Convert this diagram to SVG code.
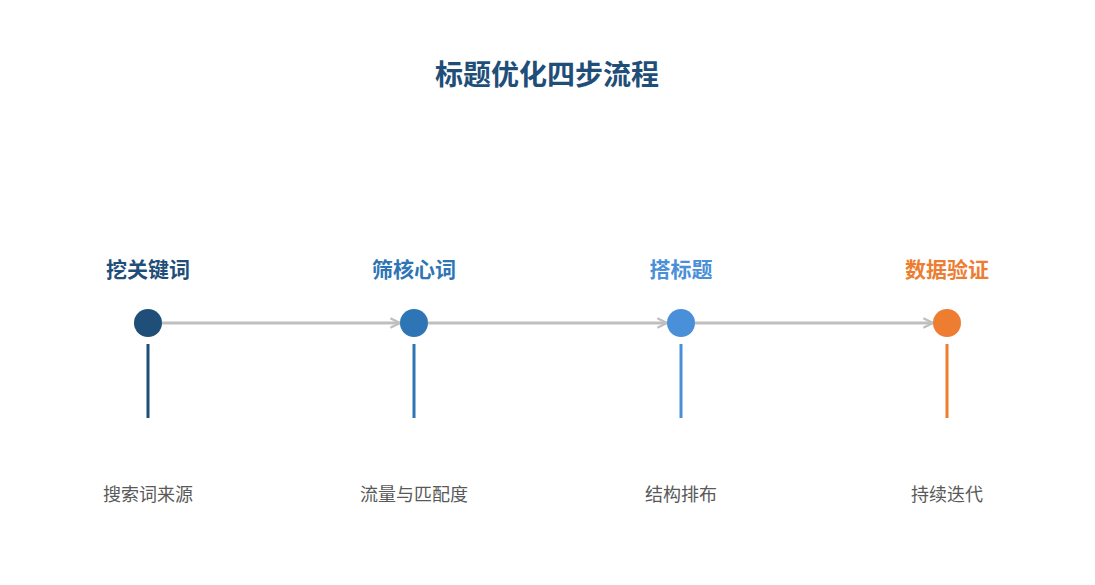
<svg xmlns="http://www.w3.org/2000/svg" width="1095" height="585" viewBox="0 0 1095 585">
<style>
text{font-family:"Noto Sans CJK SC","Liberation Sans",sans-serif;text-anchor:middle}
.t{font-size:21px;font-weight:bold}
.s{font-size:18px;fill:#595959}
.c{fill:none;stroke:#bfbfbf;stroke-width:3}
</style>
<defs><marker id="a" viewBox="0 0 10 10" refX="9" refY="5" markerWidth="4" markerHeight="4" orient="auto"><path d="M1 1L9 5L1 9" fill="none" stroke="#bfbfbf" stroke-width="2"/></marker></defs>
<rect width="1095" height="585" fill="#fff"/>
<text x="547" y="85" font-size="28" font-weight="bold" fill="#1f4e79">标题优化四步流程</text>
<g id="connectors">
<line class="c" x1="162" y1="323" x2="400" y2="323" marker-end="url(#a)"/>
<line class="c" x1="428" y1="323" x2="667" y2="323" marker-end="url(#a)"/>
<line class="c" x1="695" y1="323" x2="933" y2="323" marker-end="url(#a)"/>
</g>
<g id="n1"><text class="t" x="148" y="277" fill="#1f4e79">挖关键词</text><circle cx="148" cy="323" r="14" fill="#1f4e79"/><rect x="146.5" y="344" width="3" height="74" fill="#1f4e79"/><text class="s" x="148" y="501">搜索词来源</text></g>
<g id="n2"><text class="t" x="414" y="277" fill="#2e75b6">筛核心词</text><circle cx="414" cy="323" r="14" fill="#2e75b6"/><rect x="412.5" y="344" width="3" height="74" fill="#2e75b6"/><text class="s" x="414" y="501">流量与匹配度</text></g>
<g id="n3"><text class="t" x="681" y="277" fill="#4a90d9">搭标题</text><circle cx="681" cy="323" r="14" fill="#4a90d9"/><rect x="679.5" y="344" width="3" height="74" fill="#4a90d9"/><text class="s" x="681" y="501">结构排布</text></g>
<g id="n4"><text class="t" x="947" y="277" fill="#ed7d31">数据验证</text><circle cx="947" cy="323" r="14" fill="#ed7d31"/><rect x="945.5" y="344" width="3" height="74" fill="#ed7d31"/><text class="s" x="947" y="501">持续迭代</text></g>
</svg>
